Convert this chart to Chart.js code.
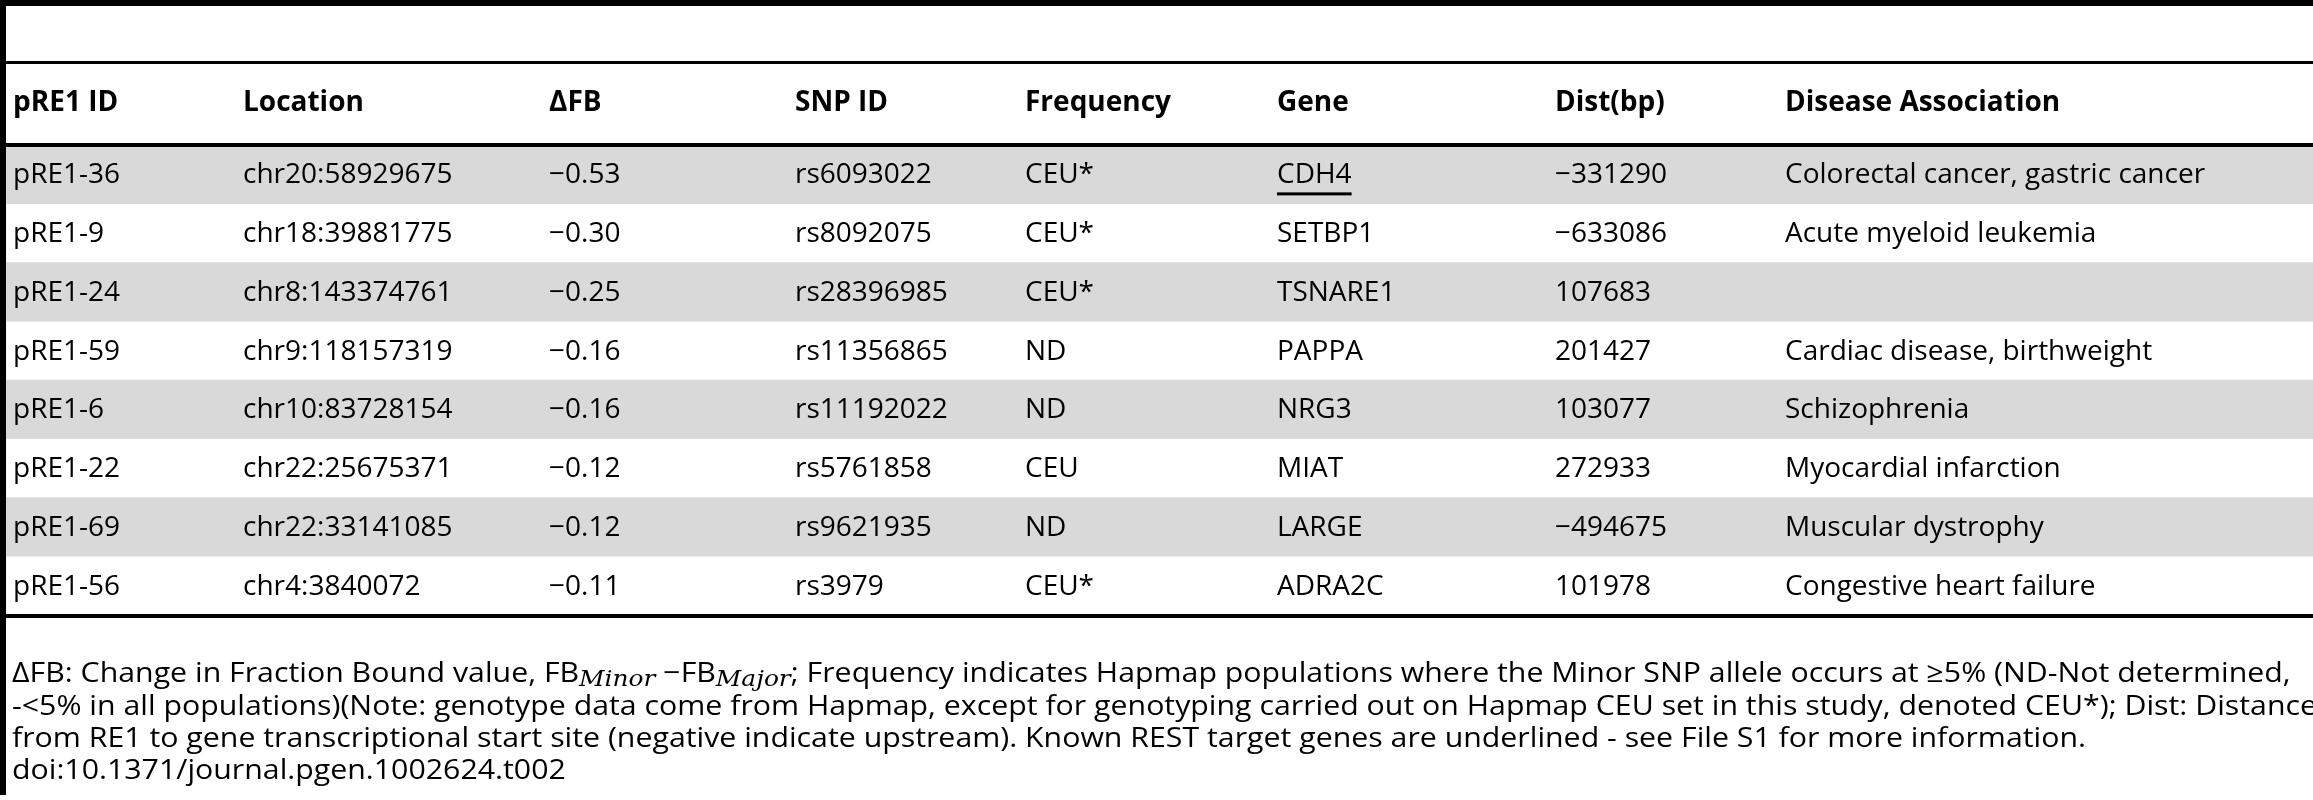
<!DOCTYPE html>
<html><head><meta charset="utf-8">
<script src="https://cdn.jsdelivr.net/npm/chart.js@4"></script>
<style>html,body{margin:0;padding:0;background:#fff}canvas{display:block}</style>
</head><body><canvas id="c" width="2313" height="800"></canvas>
<script>
const headers = ["pRE1 ID","Location","\u0394FB","SNP ID","Frequency","Gene","Dist(bp)","Disease Association"];
const ids = ["pRE1-36","pRE1-9","pRE1-24","pRE1-59","pRE1-6","pRE1-22","pRE1-69","pRE1-56"];
const locations = ["chr20:58929675","chr18:39881775","chr8:143374761","chr9:118157319","chr10:83728154","chr22:25675371","chr22:33141085","chr4:3840072"];
const deltaFB = [-0.53,-0.30,-0.25,-0.16,-0.16,-0.12,-0.12,-0.11];
const snpIds = ["rs6093022","rs8092075","rs28396985","rs11356865","rs11192022","rs5761858","rs9621935","rs3979"];
const frequency = ["CEU*","CEU*","CEU*","ND","ND","CEU","ND","CEU*"];
const genes = ["CDH4","SETBP1","TSNARE1","PAPPA","NRG3","MIAT","LARGE","ADRA2C"];
const underlined = [true,false,false,false,false,false,false,false];
const dist = [-331290,-633086,107683,201427,103077,272933,-494675,101978];
const disease = ["Colorectal cancer, gastric cancer","Acute myeloid leukemia","","Cardiac disease, birthweight","Schizophrenia","Myocardial infarction","Muscular dystrophy","Congestive heart failure"];
const shading = ids.map((_, i) => i % 2 === 0 ? 1 : 0);
const footLine2 = "-<5% in all populations)(Note: genotype data come from Hapmap, except for genotyping carried out on Hapmap CEU set in this study, denoted CEU*); Dist: Distance";
const footLine3 = "from RE1 to gene transcriptional start site (negative indicate upstream). Known REST target genes are underlined - see File S1 for more information.";
const footLine4 = "doi:10.1371/journal.pgen.1002624.t002";

const colX = [13,243,549,795,1025,1277,1555,1785];
const FONT = '"Open Sans", "DejaVu Sans", sans-serif';
const fmtNum = (v, d) => (v < 0 ? "\u2212" : "") + (d != null ? Math.abs(v).toFixed(d) : String(Math.abs(v)));

const tablePlugin = {
  id: 'table',
  afterDatasetsDraw(chart) {
    const ctx = chart.ctx, ca = chart.chartArea, y = chart.scales.y;
    ctx.save();
    ctx.fillStyle = '#000';
    ctx.fillRect(0, 0, 6, 795);
    ctx.fillRect(0, 0, 2313, 6);
    ctx.fillRect(6, 61, 2307, 3);
    ctx.fillRect(6, ca.top - 2, 2307, 4);
    ctx.fillRect(6, ca.bottom - 1, 2307, 4);
    ctx.textBaseline = 'middle';
    ctx.font = 'bold 28px ' + FONT;
    headers.forEach((h, i) => ctx.fillText(h, colX[i], 103));
    ctx.font = '28px ' + FONT;
    ids.forEach((id, r) => {
      const py = y.getPixelForValue(r) + 1;
      const cells = [id, locations[r], fmtNum(deltaFB[r], 2), snpIds[r], frequency[r], genes[r], fmtNum(dist[r]), disease[r]];
      cells.forEach((t, c) => {
        ctx.fillText(t, colX[c], py);
        if (c === 5 && underlined[r]) {
          const w = ctx.measureText(t).width;
          ctx.fillRect(colX[c], py + 17, w, 3);
        }
      });
    });
    // footnote, horizontally fitted so line 2 spans the width as in the source
    const fs = 28;
    const norm = fs + 'px ' + FONT, sub = 'italic ' + (fs - 5) + 'px "DejaVu Serif", "Liberation Serif", serif';
    ctx.font = norm;
    const sx = 2305 / ctx.measureText(footLine2).width;
    ctx.translate(12, 0);
    ctx.scale(sx, 1);
    const segs = [[norm,"\u0394FB: Change in Fraction Bound value, FB",0],[sub,"Minor",6],[norm," \u2212FB",0],[sub,"Major",6],[norm,"; Frequency indicates Hapmap populations where the Minor SNP allele occurs at \u22655% (ND-Not determined,",0]];
    let x = 0;
    segs.forEach(([f, t, dy]) => { ctx.font = f; ctx.fillText(t, x, 674 + dy); x += ctx.measureText(t).width; });
    ctx.font = norm;
    ctx.fillText(footLine2, 0, 707);
    ctx.fillText(footLine3, 0, 739);
    ctx.fillText(footLine4, 0, 771);
    ctx.restore();
  }
};

new Chart(document.getElementById('c'), {
  type: 'bar',
  data: { labels: ids, datasets: [{ data: shading, backgroundColor: '#d9d9d9', barPercentage: 1, categoryPercentage: 1, borderWidth: 0 }] },
  options: {
    indexAxis: 'y', responsive: false, animation: false, devicePixelRatio: 1,
    layout: { padding: { left: 6, top: 145, bottom: 185, right: 0 } },
    plugins: { legend: { display: false }, tooltip: { enabled: false } },
    scales: { x: { display: false, min: 0, max: 1 }, y: { display: false } }
  },
  plugins: [tablePlugin]
});
</script></body></html>
